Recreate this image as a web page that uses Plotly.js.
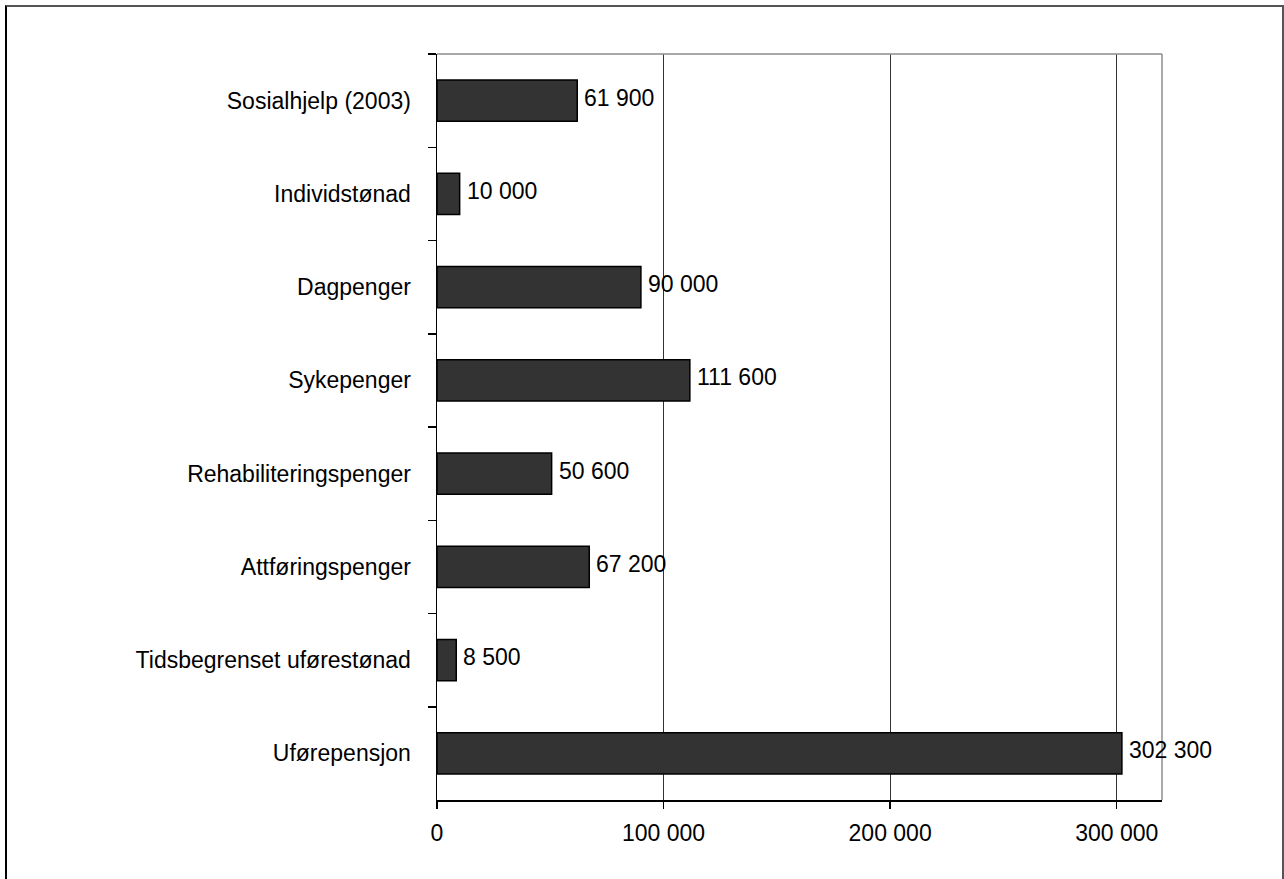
<!DOCTYPE html>
<html>
<head>
<meta charset="utf-8">
<script src="https://cdn.plot.ly/plotly-3.0.1.min.js"></script>
<style>
  html, body { margin: 0; padding: 0; background: #fff; }
  #wrap { position: relative; width: 1284px; height: 879px; overflow: hidden; }
  #chart { position: absolute; left: 0; top: 0; width: 1284px; height: 879px; }
  #frame { position: absolute; left: 5px; top: 5px; width: 1275px; height: 900px;
           border-left: 2px solid #000; border-top: 2px solid #555; border-right: 2px solid #555;
           pointer-events: none; }
</style>
</head>
<body>
<div id="wrap">
  <div id="chart"></div>
  <div id="frame"></div>
</div>
<script>
const categories = [
  "Sosialhjelp (2003)",
  "Individstønad",
  "Dagpenger",
  "Sykepenger",
  "Rehabiliteringspenger",
  "Attføringspenger",
  "Tidsbegrenset uførestønad",
  "Uførepensjon"
];
const values = [61900, 10000, 90000, 111600, 50600, 67200, 8500, 302300];
const xTickValues = [0, 100000, 200000, 300000];

function fmt(v) {
  return String(v).replace(/\B(?=(\d{3})+(?!\d))/g, " ");
}

const FONT = "Liberation Sans, Arial, Helvetica, sans-serif";
const FS = 23;

const trace = {
  type: "bar",
  orientation: "h",
  x: values,
  y: categories,
  width: 0.44,
  marker: { color: "#333333", line: { color: "#000000", width: 1.5 } },
  hoverinfo: "none"
};

const annotations = values.map((v, i) => ({
  x: v, y: categories[i], xref: "x", yref: "y",
  text: fmt(v), showarrow: false, xanchor: "left", yanchor: "middle",
  xshift: 5, yshift: 3,
  font: { family: FONT, size: FS, color: "#000" }
}));

const layout = {
  width: 1284, height: 879,
  margin: { l: 437, r: 122, t: 54, b: 79, pad: 0 },
  paper_bgcolor: "#ffffff", plot_bgcolor: "#ffffff",
  font: { family: FONT, size: FS, color: "#000" },
  showlegend: false,
  xaxis: {
    range: [0, 320000],
    tickvals: xTickValues,
    ticktext: xTickValues.map(fmt),
    showgrid: true, gridcolor: "#333333", gridwidth: 1,
    zeroline: false,
    showline: true, linecolor: "#000", linewidth: 1.5,
    ticks: "outside", ticklen: 7, tickcolor: "#000", tickwidth: 1.5,
    ticklabelstandoff: 5,
    tickfont: { family: FONT, size: FS, color: "#000" },
    fixedrange: true
  },
  yaxis: {
    type: "category",
    categoryorder: "array", categoryarray: categories,
    autorange: "reversed",
    tickson: "boundaries",
    showgrid: false, zeroline: false,
    showline: true, linecolor: "#000", linewidth: 1.5,
    ticks: "outside", ticklen: 8, tickcolor: "#000", tickwidth: 1.5,
    ticklabelstandoff: 20,
    tickfont: { family: FONT, size: FS, color: "#000" },
    fixedrange: true
  },
  shapes: [
    { type: "line", xref: "paper", yref: "paper", x0: 0, x1: 1, y0: 1, y1: 1,
      line: { color: "#8c8c8c", width: 1.5 } },
    { type: "line", xref: "paper", yref: "paper", x0: 1, x1: 1, y0: 0, y1: 1,
      line: { color: "#8c8c8c", width: 1.5 } }
  ],
  annotations: annotations
};

Plotly.newPlot("chart", [trace], layout, { displayModeBar: false, staticPlot: true });
</script>
</body>
</html>
